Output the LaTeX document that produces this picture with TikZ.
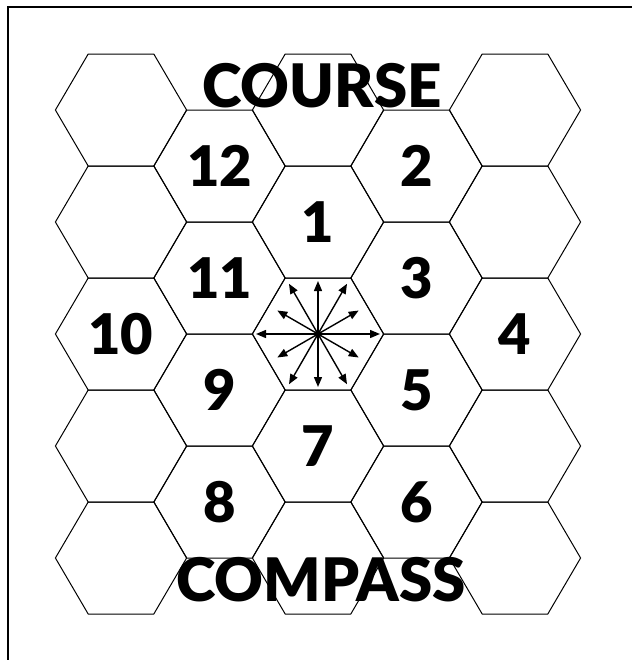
\documentclass[tikz,border=0pt]{standalone}
\usepackage{fontspec}
\setmainfont{Lato}[BoldFont={Lato Black}]
\usetikzlibrary{arrows.meta, calc}

\begin{document}
\begin{tikzpicture}[
  x=0.5pt, y=-0.5pt,
  hexline/.style={draw=black, line width=0.5pt},
  frameline/.style={draw=black, line width=1pt},
  cellnum/.style={font=\fontsize{28}{28}\selectfont\bfseries, inner sep=0pt},
  headword/.style={font=\fontsize{30}{30}\selectfont\bfseries, inner sep=0pt},
  spoke/.style={-{Triangle[length=5pt, width=4pt]}, line width=0.7pt},
]
\useasboundingbox (0,0) rectangle (632,660);
\draw[frameline] (8,660) -- (8,7) -- (632,7);

% hex grid, flat tops
\foreach \cx in {121,318,515}
  \foreach \cy in {110,222,334,446,558}
    \draw[hexline] (\cx-65.6,\cy) -- (\cx-32.8,\cy-56) -- (\cx+32.8,\cy-56)
      -- (\cx+65.6,\cy) -- (\cx+32.8,\cy+56) -- (\cx-32.8,\cy+56) -- cycle;
\foreach \cx in {219.5,416.5}
  \foreach \cy in {166,278,390,502}
    \draw[hexline] (\cx-65.6,\cy) -- (\cx-32.8,\cy-56) -- (\cx+32.8,\cy-56)
      -- (\cx+65.6,\cy) -- (\cx+32.8,\cy+56) -- (\cx-32.8,\cy+56) -- cycle;

\node[headword] (course) at (322,86) {COURSE};
\node[headword] (compass) at (321,580) {COMPASS};

\node[cellnum] (n1) at (318,222) {1};
\node[cellnum] (n2) at (416.5,166) {2};
\node[cellnum] (n3) at (416.5,278) {3};
\node[cellnum] (n4) at (515,334) {4};
\node[cellnum] (n5) at (416.5,390) {5};
\node[cellnum] (n6) at (416.5,502) {6};
\node[cellnum] (n7) at (318,446) {7};
\node[cellnum] (n8) at (219.5,502) {8};
\node[cellnum] (n9) at (219.5,390) {9};
\node[cellnum] (n10) at (121,334) {10};
\node[cellnum] (n11) at (219.5,278) {11};
\node[cellnum] (n12) at (219.5,166) {12};

% twelve headings
\coordinate (hub) at (318,334);
\foreach \a/\l in {0/62,30/47,60/58,90/53,120/58,150/47,180/62,210/47,240/58,270/53,300/58,330/47} {
  \coordinate (tip\a) at ($(hub)+(\a:\l)$);
  \draw[spoke] (hub) -- (tip\a);
}
\fill (hub) circle (3.5);
\end{tikzpicture}
\end{document}
